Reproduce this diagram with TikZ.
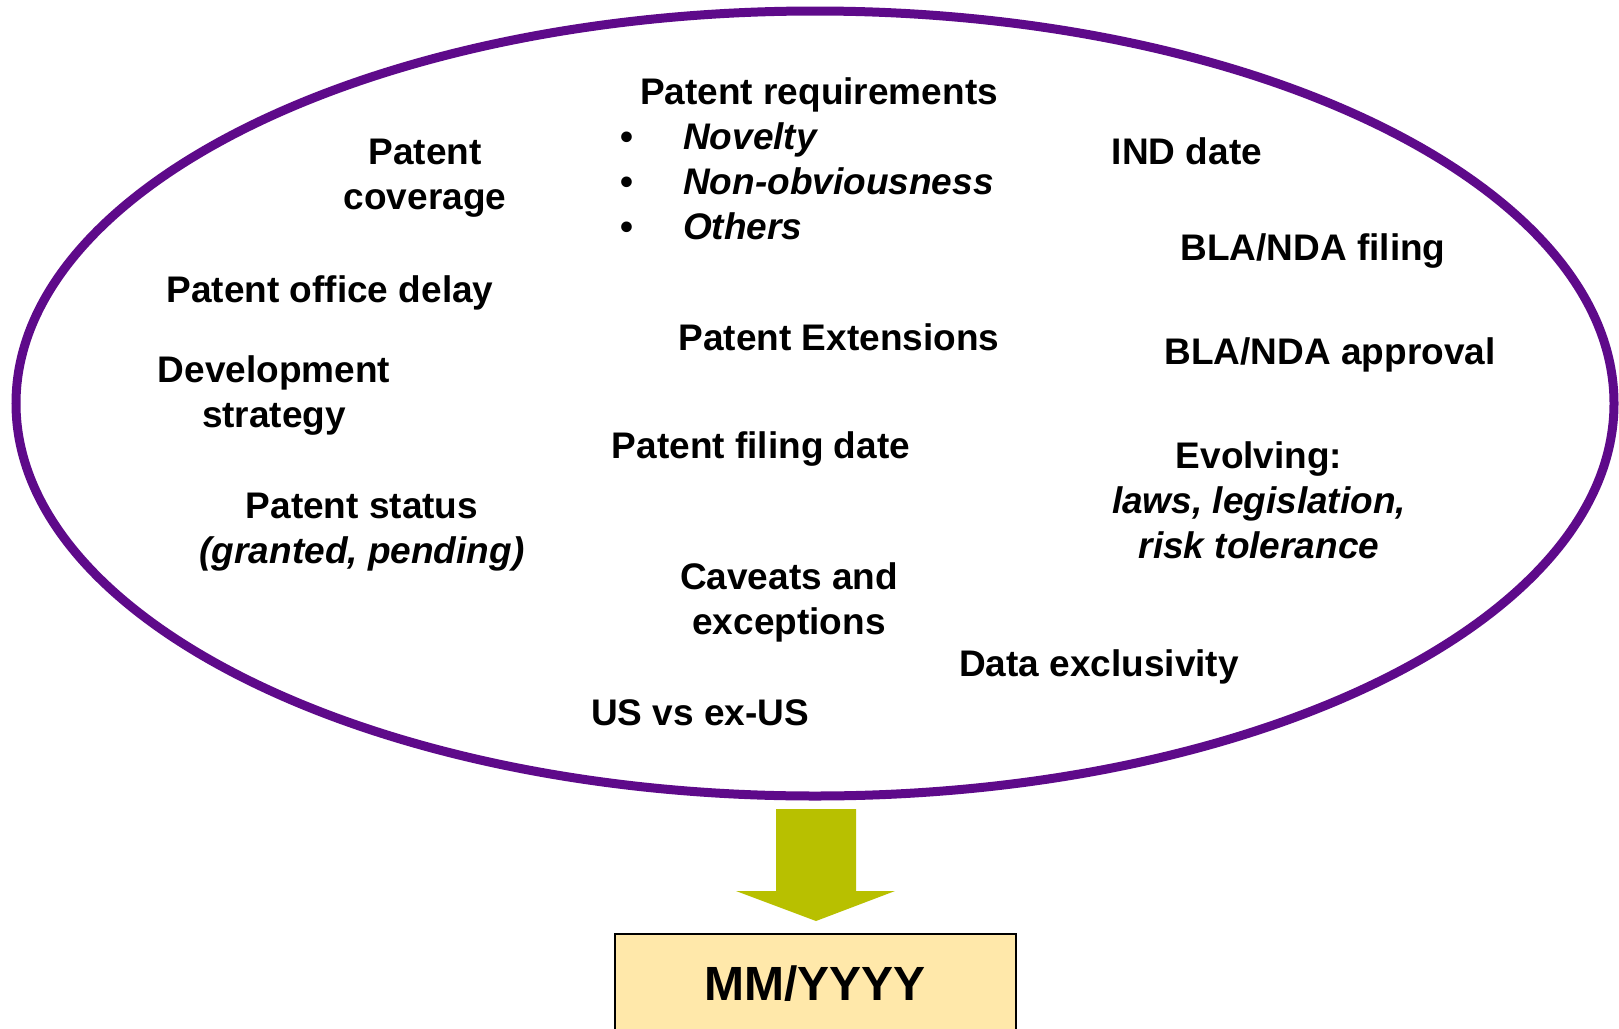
\documentclass[tikz,border=0pt]{standalone}
\usepackage{fontspec}
\setmainfont{Liberation Sans}
\definecolor{ringpurple}{RGB}{94,10,138}
\definecolor{arrowolive}{RGB}{184,192,0}
\definecolor{boxfill}{RGB}{255,232,170}
\begin{document}
\begin{tikzpicture}[x=1pt,y=-1pt,
  lbl/.style={inner sep=0pt,align=center,font=\fontsize{37}{45}\selectfont\bfseries},
  itm/.style={inner sep=0pt,anchor=base west,font=\fontsize{37}{45}\selectfont\bfseries\itshape},
  dot/.style={inner sep=0pt,anchor=base,font=\fontsize{37}{45}\selectfont\bfseries}]
\useasboundingbox[fill=white] (0,0) rectangle (1619,1028);
\clip (0,0) rectangle (1619,1028);
% ellipse
\draw[ringpurple,line width=9pt] (815,403.5) ellipse [x radius=799, y radius=392.5];
% texts
\node[inner sep=0pt,anchor=base west,font=\fontsize{37}{45}\selectfont\bfseries] (req) at (640,104) {Patent requirements};
\node[dot] (b1) at (627,149) {•};
\node[itm] (i1) at (683,149) {Novelty};
\node[dot] (b2) at (627,194) {•};
\node[itm] (i2) at (683,194) {Non-obviousness};
\node[dot] (b3) at (627,239) {•};
\node[itm] (i3) at (683,239) {Others};
\node[lbl] (cov) at (425,178) {Patent\\coverage};
\node[lbl] (delay) at (330,293) {Patent office delay};
\node[lbl] (dev) at (274,396) {Development\\strategy};
\node[lbl] (status) at (362,532) {Patent status\\\textit{(granted, pending)}};
\node[lbl] (ext) at (839,337) {Patent Extensions};
\node[lbl] (filing) at (761,449) {Patent filing date};
\node[lbl] (cav) at (789,602) {Caveats and\\exceptions};
\node[lbl] (us) at (700,713) {US vs ex-US};
\node[lbl] (ind) at (1187,151) {IND date};
\node[lbl] (blaf) at (1313,251) {BLA/NDA filing};
\node[lbl] (blaa) at (1330,355) {BLA/NDA approval};
\node[lbl] (evo) at (1259,500) {Evolving:\\\textit{laws, legislation,}\\\textit{risk tolerance}};
\node[lbl] (data) at (1099,667) {Data exclusivity};
% arrow
\fill[arrowolive] (776,809) -- (856,809) -- (856,891) -- (895,891) -- (816,921) -- (736,891) -- (776,891) -- cycle;
% result box
\draw[fill=boxfill,line width=2pt] (615,934) rectangle (1016,1040);
\node[inner sep=0pt,anchor=base,font=\fontsize{48}{56}\selectfont\bfseries] (mm) at (815,1000) {MM/YYYY};
\end{tikzpicture}
\end{document}
